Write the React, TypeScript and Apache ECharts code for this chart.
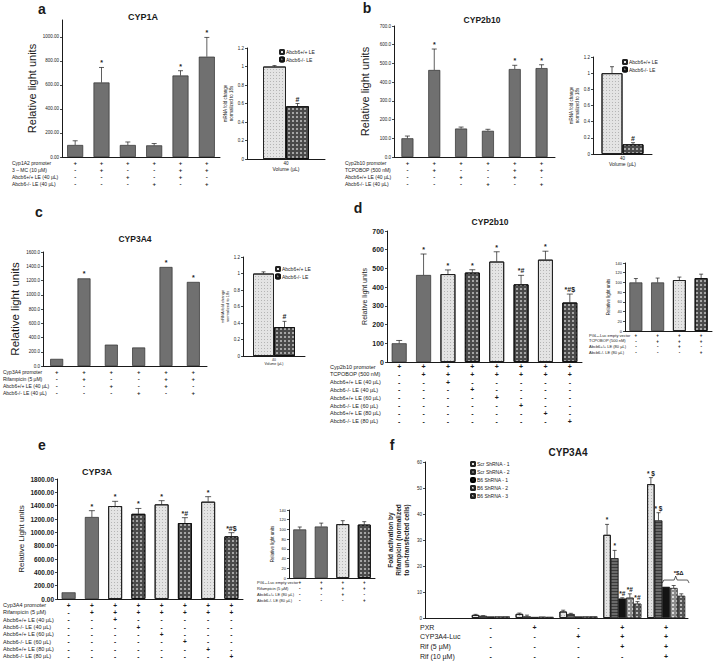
import React, { useEffect, useRef } from 'react';
import * as echarts from 'echarts';

const FONT = 'Arial, "Liberation Sans", Helvetica, sans-serif';
const INK = '#1a1a1a';

// ---------------- Panel a : CYP1A ----------------
const aRowLabels = ['Cyp1A2 promoter', '3 – MC (10 µM)', 'Abcb6+/+ LE (40 µL)', 'Abcb6-/- LE (40 µL)'];
const aRows = [
  ['+', '+', '+', '+', '+', '+'],
  ['-', '+', '-', '-', '+', '+'],
  ['-', '-', '+', '-', '+', '-'],
  ['-', '-', '-', '+', '-', '+'],
];
const aValues = [100, 620, 100, 97, 678, 835];
const aErrors = [35, 125, 25, 15, 40, 160];
const aMarks = ['', '*', '', '', '*', '*'];

// insets a–c (qPCR)
const insetNames = ['Abcb6+/+ LE', 'Abcb6-/- LE'];
const insetCats = ['40'];
const aInsetWT = [1.0];
const aInsetWTErr = [0.01];
const aInsetKO = [0.57];
const aInsetKOErr = [0.03];

// ---------------- Panel b : CYP2b10 ----------------
const bRowLabels = ['Cyp2b10 promoter', 'TCPOBOP (500 nM)', 'Abcb6+/+ LE (40 µL)', 'Abcb6-/- LE (40 µL)'];
const bRows = [
  ['+', '+', '+', '+', '+', '+'],
  ['-', '+', '-', '-', '+', '+'],
  ['-', '-', '+', '-', '+', '-'],
  ['-', '-', '-', '+', '-', '+'],
];
const bValues = [100, 465, 152, 140, 470, 475];
const bErrors = [12, 112, 8, 8, 20, 18];
const bMarks = ['', '*', '', '', '*', '*'];
const bInsetWT = [1.0];
const bInsetWTErr = [0.08];
const bInsetKO = [0.12];
const bInsetKOErr = [0.02];

// ---------------- Panel c : CYP3A4 ----------------
const cRowLabels = ['Cyp3A4 promoter', 'Rifampicin (5 µM)', 'Abcb6+/+ LE (40 µL)', 'Abcb6-/- LE (40 µL)'];
const cRows = [
  ['+', '+', '+', '+', '+', '+'],
  ['-', '+', '-', '-', '+', '+'],
  ['-', '-', '+', '-', '+', '-'],
  ['-', '-', '-', '+', '-', '+'],
];
const cValues = [100, 1230, 300, 260, 1390, 1180];
const cErrors = [0, 0, 0, 0, 0, 0];
const cMarks = ['', '*', '', '', '*', '*'];
const cInsetWT = [1.0];
const cInsetWTErr = [0.02];
const cInsetKO = [0.35];
const cInsetKOErr = [0.07];

// ---------------- Panel d : CYP2b10 dose ----------------
const dRowLabels = [
  'Cyp2b10 promoter', 'TCPOBOP (500 nM)', 'Abcb6+/+ LE (40 µL)', 'Abcb6-/- LE (40 µL)',
  'Abcb6+/+ LE (60 µL)', 'Abcb6-/- LE (60 µL)', 'Abcb6+/+ LE (80 µL)', 'Abcb6-/- LE (80 µL)',
];
const dRows = [
  ['+', '+', '+', '+', '+', '+', '+', '+'],
  ['-', '+', '+', '+', '+', '+', '+', '+'],
  ['-', '-', '+', '-', '-', '-', '-', '-'],
  ['-', '-', '-', '+', '-', '-', '-', '-'],
  ['-', '-', '-', '-', '+', '-', '-', '-'],
  ['-', '-', '-', '-', '-', '+', '-', '-'],
  ['-', '-', '-', '-', '-', '-', '+', '-'],
  ['-', '-', '-', '-', '-', '-', '-', '+'],
];
const dValues = [100, 465, 470, 478, 537, 415, 547, 318];
const dErrors = [15, 112, 22, 15, 52, 48, 45, 45];
const dMarks = ['', '*', '*', '*', '*', '*#', '*', '*#$'];
const doseStyles = ['gray', 'gray', 'light', 'dark', 'light', 'dark', 'light', 'dark'];

const dInsetRowLabels = ['PGL₃-Luc empty vector', 'TCPOBOP (500 nM)', 'Abcb6+/+ LE (80 µL)', 'Abcb6-/- LE (80 µL)'];
const insetRows = [
  ['+', '+', '+', '+'],
  ['-', '+', '+', '+'],
  ['-', '-', '+', '-'],
  ['-', '-', '-', '+'],
];
const dInsetValues = [100, 100, 105, 109];
const dInsetErrors = [8, 9, 6, 8];
const insetStyles = ['gray', 'gray', 'light', 'dark'];

// ---------------- Panel e : CYP3A dose ----------------
const eRowLabels = [
  'Cyp3A4 promoter', 'Rifampicin (5 µM)', 'Abcb6+/+ LE (40 µL)', 'Abcb6-/- LE (40 µL)',
  'Abcb6+/+ LE (60 µL)', 'Abcb6-/- LE (60 µL)', 'Abcb6+/+ LE (80 µL)', 'Abcb6-/- LE (80 µL)',
];
const eValues = [100, 1230, 1395, 1278, 1420, 1140, 1460, 940];
const eErrors = [0, 95, 70, 80, 55, 80, 75, 55];
const eMarks = ['', '*', '*', '*', '*', '*#', '*', '*#$'];
const eInsetRowLabels = ['PGL₃-Luc empty vector', 'Rifampicin (5 µM)', 'Abcb6+/+ LE (80 µL)', 'Abcb6-/- LE (80 µL)'];
const eInsetValues = [100, 106, 111, 110];
const eInsetErrors = [5, 7, 7, 6];

// ---------------- Panel f : CYP3A4 shRNA ----------------
const fNames = ['Scr ShRNA - 1', 'Scr ShRNA - 2', 'B6 ShRNA - 1', 'B6 ShRNA - 2', 'B6 ShRNA - 3'];
const fRowLabels = ['PXR', 'CYP3A4-Luc', 'Rif (5 µM)', 'Rif (10 µM)'];
const fRows = [
  ['', '-', '+', '-', '+', '+'],
  ['', '-', '-', '+', '+', '+'],
  ['', '-', '-', '-', '+', '+'],
  ['', '-', '-', '-', '-', '+'],
];
const fScr1 = [null, 1.2, 1.6, 2.5, 32, 51.5];
const fScr1Err = [0, 0.2, 0.3, 0.5, 4, 2.5];
const fScr1Marks = ['', '', '', '', '*', '* $'];
const fScr2 = [null, 0.8, 0.6, 1.5, 23, 37.5];
const fScr2Err = [0, 0.1, 0.5, 0.3, 3, 3];
const fScr2Marks = ['', '', '', '', '*', '* $'];
const fB61 = [null, 0.6, 0.4, 0.6, 7.5, 12];
const fB61Err = [0, 0, 0, 0, 0.3, 0];
const fB61Marks = ['', '', '', '', '*#', ''];
const fB62 = [null, 0.6, 0.5, 0.6, 7.8, 11.5];
const fB62Err = [0, 0, 0, 0, 1.5, 1];
const fB62Marks = ['', '', '', '', '*#', ''];
const fB63 = [null, 0.6, 0.4, 0.6, 5.5, 8.5];
const fB63Err = [0, 0, 0, 0, 0.8, 0.8];
const fB63Marks = ['', '', '', '', '*#', ''];
const fBracket = [5, 14.6];
const fBracketMark = '*$Δ';

// ---------------- styles ----------------
const STYLE: Record<string, any> = {
  gray: { color: '#707070', borderColor: '#2e2e2e', borderWidth: 0.7 },
  light: {
    color: '#e4e4e4', borderColor: '#222', borderWidth: 1,
    decal: { symbol: 'rect', symbolSize: 1, dashArrayX: [1, 1.5], dashArrayY: [1, 1.5], color: 'rgba(150,150,150,0.6)' },
  },
  dark: {
    color: '#4a4a4a', borderColor: '#111', borderWidth: 1,
    decal: { symbol: 'rect', symbolSize: 1, dashArrayX: [1.2, 1.2], dashArrayY: [1.2, 1.2], color: 'rgba(255,255,255,0.5)' },
  },
  black: { color: '#141414', borderColor: '#000', borderWidth: 0.6 },
  hatch: {
    color: '#6a6a6a', borderColor: '#222', borderWidth: 0.6,
    decal: { symbol: 'rect', symbolSize: 1, dashArrayX: [1, 0], dashArrayY: [1, 2], color: 'rgba(20,20,20,0.55)' },
  },
  check: {
    color: '#8c8c8c', borderColor: '#222', borderWidth: 0.6,
    decal: { symbol: 'rect', symbolSize: 1, dashArrayX: [1.2, 1.2], dashArrayY: [1.2, 1.2], color: 'rgba(255,255,255,0.7)' },
  },
  check2: {
    color: '#555', borderColor: '#222', borderWidth: 0.6,
    decal: { symbol: 'rect', symbolSize: 1, dashArrayX: [1.2, 1.2], dashArrayY: [1.2, 1.2], color: 'rgba(255,255,255,0.6)' },
  },
};

type SeriesSpec = {
  name?: string; values: (number | null)[]; errors: number[]; marks: string[]; styles: string | string[];
};
type PanelSpec = {
  box: [number, number, number, number];
  cats: number;
  xLabels?: string[]; xName?: string; xFont?: number; xNameGap?: number; xNameFont?: number;
  labelMargin: number;
  yMax: number; yInterval: number; yFormat: (v: number) => string; yFont: number; yBold?: boolean;
  yName: string; yNameFont: number; yNameGap: number; yNameBold?: boolean;
  rows?: string[][]; rowStep?: number; rowFirst?: number; signFont?: number;
  rowLabels?: string[]; labelX?: number; labelFont?: number;
  series: SeriesSpec[]; barWidth: number; markFont: number; capHalf: number;
  legend?: { left: number; top: number; font: number; gap: number };
};

function buildOption() {
  const grid: any[] = [];
  const xAxis: any[] = [];
  const yAxis: any[] = [];
  const series: any[] = [];
  const graphic: any[] = [];
  const legend: any[] = [];

  const text = (x: number, y: number, t: string, size: number, bold = false, align = 'left') => {
    graphic.push({
      type: 'text', x, y, silent: true,
      style: {
        text: t, fontSize: size, fontFamily: FONT, fontWeight: bold ? 'bold' : 'normal', fill: INK,
        textAlign: align, textVerticalAlign: 'middle', align, verticalAlign: 'middle',
      },
    });
  };

  function panel(p: PanelSpec) {
    const gi = grid.length;
    const [left, top, width, height] = p.box;
    grid.push({ left, top, width, height });
    const cats = Array.from({ length: p.cats }, (_, i) => String(i));
    const firstLabels = p.rows ? p.rows[0] : (p.xLabels as string[]);
    const labelFont = p.rows ? (p.signFont as number) : (p.xFont as number);
    const xi = xAxis.length;
    xAxis.push({
      type: 'category', gridIndex: gi, position: 'bottom', data: cats,
      axisLine: { show: true, lineStyle: { color: INK, width: 1 } },
      axisTick: { show: false }, splitLine: { show: false },
      axisLabel: {
        interval: 0, margin: p.labelMargin, fontSize: labelFont, fontFamily: FONT,
        fontWeight: p.rows ? 'bold' : 'normal', color: INK,
        formatter: (v: string) => firstLabels[+v] ?? '',
      },
      name: p.xName, nameLocation: 'middle', nameGap: p.xNameGap,
      nameTextStyle: { fontSize: p.xNameFont, fontFamily: FONT, color: INK },
    });
    if (p.rows) {
      for (let r = 1; r < p.rows.length; r++) {
        const row = p.rows[r];
        xAxis.push({
          type: 'category', gridIndex: gi, position: 'bottom', offset: r * (p.rowStep as number), data: cats,
          axisLine: { show: false }, axisTick: { show: false }, splitLine: { show: false },
          axisLabel: {
            interval: 0, margin: p.labelMargin, fontSize: p.signFont, fontFamily: FONT, fontWeight: 'bold',
            color: INK, formatter: (v: string) => row[+v] ?? '',
          },
        });
      }
      (p.rowLabels || []).forEach((lab, r) => {
        text(p.labelX as number, top + height + (p.rowFirst as number) + r * (p.rowStep as number), lab, p.labelFont as number);
      });
    }
    const yi = yAxis.length;
    yAxis.push({
      type: 'value', gridIndex: gi, min: 0, max: p.yMax, interval: p.yInterval,
      axisLine: { show: true, lineStyle: { color: INK, width: 1 } },
      axisTick: { show: true, length: 2, lineStyle: { color: INK, width: 0.8 } },
      splitLine: { show: false },
      axisLabel: {
        fontSize: p.yFont, fontFamily: FONT, fontWeight: p.yBold ? 'bold' : 'normal', color: INK, margin: 3,
        showMaxLabel: Math.abs(p.yMax / p.yInterval - Math.round(p.yMax / p.yInterval)) < 1e-6,
        formatter: p.yFormat,
      },
      name: p.yName, nameLocation: 'middle', nameRotate: 90, nameGap: p.yNameGap,
      nameTextStyle: {
        fontSize: p.yNameFont, fontFamily: FONT, color: INK, fontWeight: p.yNameBold ? 'bold' : 'normal',
        lineHeight: Math.round(p.yNameFont * 1.2 * 10) / 10,
      },
    });
    const ns = p.series.length;
    p.series.forEach((s, si) => {
      const baseStyle = Array.isArray(s.styles) ? s.styles[0] : s.styles;
      series.push({
        type: 'bar', name: s.name, xAxisIndex: xi, yAxisIndex: yi, barWidth: p.barWidth, barGap: '0%',
        silent: true, emphasis: { disabled: true }, itemStyle: STYLE[baseStyle],
        data: s.values.map((v, i) => v == null ? '-' : ({
          value: v, itemStyle: STYLE[Array.isArray(s.styles) ? s.styles[i] : s.styles],
        })),
      });
      const off = (si - (ns - 1) / 2) * p.barWidth;
      const errData = s.values
        .map((v, i) => [i, v ?? 0, s.errors[i] ?? 0, i])
        .filter((d) => d[2] > 0 || s.marks[d[3]]);
      series.push({
        type: 'custom', xAxisIndex: xi, yAxisIndex: yi, silent: true, z: 5,
        data: errData,
        renderItem: (_params: any, api: any) => {
          const idx = api.value(3);
          const v = api.value(1);
          const e = api.value(2);
          const base = api.coord([api.value(0), v]);
          const tip = api.coord([api.value(0), v + e]);
          const x = base[0] + off;
          const ch: any[] = [];
          if (e > 0) {
            ch.push({ type: 'line', shape: { x1: x, y1: base[1], x2: x, y2: tip[1] }, style: { stroke: INK, lineWidth: 0.7 } });
            ch.push({ type: 'line', shape: { x1: x - p.capHalf, y1: tip[1], x2: x + p.capHalf, y2: tip[1] }, style: { stroke: INK, lineWidth: 0.7 } });
          }
          const m = s.marks[idx];
          if (m) {
            ch.push({
              type: 'text', x, y: tip[1] - 1,
              style: {
                text: m, fontSize: p.markFont, fontFamily: FONT, fontWeight: 'bold', fill: INK,
                align: 'center', verticalAlign: 'bottom', textAlign: 'center', textVerticalAlign: 'bottom',
              },
            });
          }
          return { type: 'group', children: ch };
        },
      });
    });
    if (p.legend) {
      legend.push({
        left: p.legend.left, top: p.legend.top, orient: 'vertical', selectedMode: false,
        itemWidth: 4, itemHeight: 4, itemGap: p.legend.gap, padding: 0,
        textStyle: { fontSize: p.legend.font, fontFamily: FONT, color: INK, padding: [0, 0, 0, -3] },
        data: p.series.map((s) => s.name),
      });
    }
    return { xi, yi };
  }

  const fmt2 = (v: number) => v.toFixed(2);
  const fmt1 = (v: number) => v.toFixed(1);
  const fmt0 = (v: number) => String(Math.round(v));
  const fmtIns = (v: number) => String(Math.round(v * 10) / 10);

  // ---- a ----
  panel({
    box: [62, 20, 158, 137], cats: 6, labelMargin: 3,
    yMax: 1140, yInterval: 200, yFormat: fmt2, yFont: 4.5,
    yName: 'Relative light units', yNameFont: 11, yNameGap: 22,
    rows: aRows, rowStep: 7, rowFirst: 6, signFont: 6, rowLabels: aRowLabels, labelX: 12, labelFont: 5,
    series: [{ values: aValues, errors: aErrors, marks: aMarks, styles: 'gray' }],
    barWidth: 16, markFont: 7, capHalf: 2.5,
  });
  panel({
    box: [247, 48, 78, 111], cats: 1, xLabels: insetCats, xName: 'Volume (µL)', xFont: 4.5, xNameFont: 5, xNameGap: 7.5,
    labelMargin: 2, yMax: 1.2, yInterval: 0.2, yFormat: fmtIns, yFont: 4.5,
    yName: 'mRNA fold change\nnormalized to 18s', yNameFont: 4.5, yNameGap: 7,
    series: [
      { name: insetNames[0], values: aInsetWT, errors: aInsetWTErr, marks: [''], styles: 'light' },
      { name: insetNames[1], values: aInsetKO, errors: aInsetKOErr, marks: ['#'], styles: 'dark' },
    ],
    barWidth: 23, markFont: 7, capHalf: 2, legend: { left: 279, top: 49, font: 5, gap: 1.5 },
  });
  text(143, 17, 'CYP1A', 9, true, 'center');
  text(42, 9, 'a', 14, true, 'center');

  // ---- b ----
  panel({
    box: [394, 26, 161, 131], cats: 6, labelMargin: 3,
    yMax: 700, yInterval: 100, yFormat: fmt1, yFont: 4.5,
    yName: 'Relative light units', yNameFont: 11, yNameGap: 22,
    rows: bRows, rowStep: 7, rowFirst: 6, signFont: 6, rowLabels: bRowLabels, labelX: 345, labelFont: 5,
    series: [{ values: bValues, errors: bErrors, marks: bMarks, styles: 'gray' }],
    barWidth: 12, markFont: 7, capHalf: 2.5,
  });
  panel({
    box: [593, 57, 59, 97], cats: 1, xLabels: insetCats, xName: 'Volume (µL)', xFont: 4.5, xNameFont: 5, xNameGap: 7,
    labelMargin: 2, yMax: 1.2, yInterval: 0.2, yFormat: fmtIns, yFont: 4.5,
    yName: 'mRNA fold change\nnormalized to 18s', yNameFont: 4.5, yNameGap: 11,
    series: [
      { name: insetNames[0], values: bInsetWT, errors: bInsetWTErr, marks: [''], styles: 'light' },
      { name: insetNames[1], values: bInsetKO, errors: bInsetKOErr, marks: ['#'], styles: 'dark' },
    ],
    barWidth: 21, markFont: 7, capHalf: 2, legend: { left: 622, top: 59, font: 5, gap: 1.5 },
  });
  text(482, 20, 'CYP2b10', 8.5, true, 'center');
  text(367, 8, 'b', 14, true, 'center');

  // ---- c ----
  panel({
    box: [43, 252, 164, 114], cats: 6, labelMargin: 3,
    yMax: 1600, yInterval: 200, yFormat: fmt1, yFont: 4.5,
    yName: 'Relative light units', yNameFont: 11.5, yNameGap: 21,
    rows: cRows, rowStep: 7, rowFirst: 6, signFont: 6, rowLabels: cRowLabels, labelX: 3, labelFont: 5,
    series: [{ values: cValues, errors: cErrors, marks: cMarks, styles: 'gray' }],
    barWidth: 13, markFont: 7, capHalf: 2.5,
  });
  panel({
    box: [243, 257, 62, 99], cats: 1, xLabels: insetCats, xName: 'Volume (µL)', xFont: 3.5, xNameFont: 3.5, xNameGap: 5,
    labelMargin: 1.5, yMax: 1.2, yInterval: 0.2, yFormat: fmtIns, yFont: 4.5,
    yName: 'mRNA fold change\nnormalized to 18s', yNameFont: 4, yNameGap: 11,
    series: [
      { name: insetNames[0], values: cInsetWT, errors: cInsetWTErr, marks: [''], styles: 'light' },
      { name: insetNames[1], values: cInsetKO, errors: cInsetKOErr, marks: ['#'], styles: 'dark' },
    ],
    barWidth: 21, markFont: 7, capHalf: 2, legend: { left: 275, top: 266, font: 5, gap: 1.5 },
  });
  text(135, 239, 'CYP3A4', 8.5, true, 'center');
  text(39, 212, 'c', 14, true, 'center');

  // ---- d ----
  panel({
    box: [387, 231, 195, 131], cats: 8, labelMargin: 1,
    yMax: 700, yInterval: 100, yFormat: fmt0, yFont: 7, yBold: true,
    yName: 'Relative light units', yNameFont: 7, yNameGap: 15,
    rows: dRows, rowStep: 7.8, rowFirst: 4.5, signFont: 7, rowLabels: dRowLabels, labelX: 330, labelFont: 5.5,
    series: [{ values: dValues, errors: dErrors, marks: dMarks, styles: doseStyles }],
    barWidth: 15, markFont: 7, capHalf: 3,
  });
  panel({
    box: [625, 263, 87, 68], cats: 4, labelMargin: 1.75,
    yMax: 140, yInterval: 20, yFormat: fmt0, yFont: 4,
    yName: 'Relative light units', yNameFont: 4.5, yNameGap: 10,
    rows: insetRows, rowStep: 5.8, rowFirst: 4, signFont: 4.5, rowLabels: dInsetRowLabels, labelX: 589, labelFont: 4,
    series: [{ values: dInsetValues, errors: dInsetErrors, marks: ['', '', '', ''], styles: insetStyles }],
    barWidth: 13, markFont: 5, capHalf: 2,
  });
  text(490, 222, 'CYP2b10', 8.5, true, 'center');
  text(358, 208, 'd', 14, true, 'center');

  // ---- e ----
  panel({
    box: [57, 479, 186, 120], cats: 8, labelMargin: 2.75,
    yMax: 1800, yInterval: 200, yFormat: fmt2, yFont: 6.5, yBold: true,
    yName: 'Relative Light units', yNameFont: 8, yNameGap: 27,
    rows: dRows, rowStep: 7.3, rowFirst: 6, signFont: 6.5, rowLabels: eRowLabels, labelX: 3, labelFont: 5.5,
    series: [{ values: eValues, errors: eErrors, marks: eMarks, styles: doseStyles }],
    barWidth: 14, markFont: 7, capHalf: 3,
  });
  panel({
    box: [289, 510, 86, 68], cats: 4, labelMargin: 1.75,
    yMax: 140, yInterval: 20, yFormat: fmt0, yFont: 4,
    yName: 'Relative light units', yNameFont: 4.5, yNameGap: 9,
    rows: insetRows, rowStep: 6, rowFirst: 4, signFont: 4.5, rowLabels: eInsetRowLabels, labelX: 257, labelFont: 4,
    series: [{ values: eInsetValues, errors: eInsetErrors, marks: ['', '', '', ''], styles: insetStyles }],
    barWidth: 13, markFont: 5, capHalf: 2,
  });
  text(97, 472, 'CYP3A', 9, true, 'center');
  text(42, 445, 'e', 14, true, 'center');

  // ---- f ----
  const fAx = panel({
    box: [425, 462, 263, 156], cats: 6, labelMargin: 5.5,
    yMax: 60, yInterval: 10, yFormat: fmt0, yFont: 4.5,
    yName: 'Fold activation by\nRifampicin (normalized\nto un-transfected cells)', yNameFont: 6.5, yNameGap: 15, yNameBold: true,
    rows: fRows, rowStep: 9.7, rowFirst: 9, signFont: 7, rowLabels: fRowLabels, labelX: 420, labelFont: 7,
    series: [
      { name: fNames[0], values: fScr1, errors: fScr1Err, marks: fScr1Marks, styles: 'light' },
      { name: fNames[1], values: fScr2, errors: fScr2Err, marks: fScr2Marks, styles: 'hatch' },
      { name: fNames[2], values: fB61, errors: fB61Err, marks: fB61Marks, styles: 'black' },
      { name: fNames[3], values: fB62, errors: fB62Err, marks: fB62Marks, styles: 'check' },
      { name: fNames[4], values: fB63, errors: fB63Err, marks: fB63Marks, styles: 'check2' },
    ],
    barWidth: 7.6, markFont: 6.5, capHalf: 2, legend: { left: 470, top: 461, font: 5, gap: 2 },
  });
  const bw = 7.6;
  series.push({
    type: 'custom', xAxisIndex: fAx.xi, yAxisIndex: fAx.yi, silent: true, z: 6,
    data: [fBracket],
    renderItem: (_p: any, api: any) => {
      const c = api.coord([api.value(0), api.value(1)]);
      const x0 = c[0] - bw / 2;
      const x1 = c[0] + 2.5 * bw + 4;
      const xm = (x0 + x1) / 2;
      const y = c[1];
      return {
        type: 'group',
        children: [
          { type: 'polyline', shape: { points: [[x0, y + 3], [x0 + 1.5, y], [xm - 1.5, y], [xm, y - 4], [xm + 1.5, y], [x1 - 1.5, y], [x1, y + 3]] }, style: { stroke: INK, lineWidth: 0.7, fill: 'none' } },
          { type: 'text', x: xm + 3, y: y - 4, style: { text: fBracketMark, fontSize: 6, fontFamily: FONT, fontWeight: 'bold', fill: INK, align: 'center', verticalAlign: 'bottom', textAlign: 'center', textVerticalAlign: 'bottom' } },
        ],
      };
    },
  });
  text(568, 452, 'CYP3A4', 10, true, 'center');
  text(392, 445, 'f', 14, true, 'center');

  return {
    animation: false,
    backgroundColor: '#ffffff',
    textStyle: { fontFamily: FONT },
    grid, xAxis, yAxis, series, legend, graphic,
  };
}

export default function App() {
  const ref = useRef<HTMLDivElement>(null);
  useEffect(() => {
    if (!ref.current) return;
    const chart = echarts.init(ref.current, null, { renderer: 'svg', width: 713, height: 661 });
    chart.setOption(buildOption() as any);
    return () => chart.dispose();
  }, []);
  return (
    <div
      ref={ref}
      style={{ position: 'absolute', left: 0, top: 0, width: 713, height: 661, background: '#fff' }}
    />
  );
}
